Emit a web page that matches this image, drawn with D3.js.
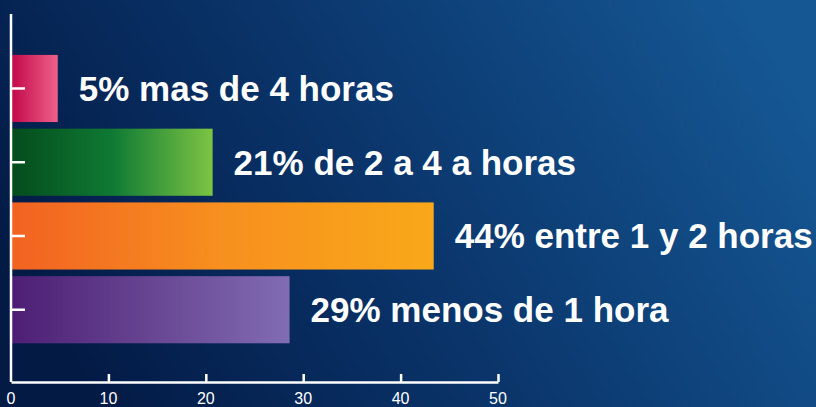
<!DOCTYPE html>
<html>
<head>
<meta charset="utf-8">
<script src="https://cdn.jsdelivr.net/npm/d3@7"></script>
<style>
  html, body { margin: 0; padding: 0; background: #0b2d5e; }
  svg { display: block; font-family: "Liberation Sans", Arial, sans-serif; }
</style>
</head>
<body>
<svg id="svg" width="816" height="407"></svg>
<script>
const categories = ['mas de 4 horas', 'de 2 a 4 a horas', 'entre 1 y 2 horas', 'menos de 1 hora'];
const percents = [5, 21, 44, 29];
const barValues = [4.8, 20.7, 43.4, 28.6];
const xTicks = [0, 10, 20, 30, 40, 50];
const barColors = [
  ['#c20a4a', '#f0608a'],
  ['#044c1c', '#0f7a34', '#7cc444'],
  ['#f26222', '#f7901e', '#f9a81a'],
  ['#4d1f74', '#816cb2']
];

const width = 816, height = 407;
const svg = d3.select('#svg');
const defs = svg.append('defs');

// background
const bg = defs.append('linearGradient').attr('id', 'bg')
  .attr('x1', 0).attr('y1', 0.6).attr('x2', 1).attr('y2', 0.3);
bg.append('stop').attr('offset', 0).attr('stop-color', '#031a45');
bg.append('stop').attr('offset', 0.45).attr('stop-color', '#0a346a');
bg.append('stop').attr('offset', 1).attr('stop-color', '#155793');
svg.append('rect').attr('width', width).attr('height', height).attr('fill', 'url(#bg)');

barColors.forEach((cols, i) => {
  const gr = defs.append('linearGradient').attr('id', 'bar' + i)
    .attr('x1', 0).attr('y1', 0).attr('x2', 1).attr('y2', 0);
  cols.forEach((c, j) => {
    gr.append('stop').attr('offset', j / (cols.length - 1)).attr('stop-color', c);
  });
});

const x = d3.scaleLinear().domain([0, 50]).range([11, 498]);
const y = d3.scaleBand().domain(categories).range([51.6, 346.6])
  .paddingInner(0.09).paddingOuter(0.045);

const g = svg.append('g');

g.selectAll('rect.bar').data(categories).enter().append('rect')
  .attr('class', 'bar')
  .attr('x', x(0) + 1)
  .attr('y', (d) => y(d))
  .attr('width', (d, i) => x(barValues[i]) - x(0) - 1)
  .attr('height', y.bandwidth())
  .attr('fill', (d, i) => 'url(#bar' + i + ')');

g.selectAll('text.label').data(categories).enter().append('text')
  .attr('class', 'label')
  .attr('x', (d, i) => x(barValues[i]) + 21)
  .attr('y', (d) => y(d) + y.bandwidth() / 2 + 12.5)
  .attr('fill', '#ffffff')
  .attr('font-weight', 'bold')
  .attr('font-size', 35)
  .text((d, i) => percents[i] + '% ' + d);

// y axis
const yAxis = g.append('g').attr('transform', 'translate(' + x(0) + ',0)')
  .call(d3.axisRight(y).tickSize(14).tickFormat(''));
yAxis.select('.domain').attr('d', 'M0,14V382');
yAxis.selectAll('line, path').attr('stroke', '#ffffff').attr('stroke-width', 2.5);

// x axis
const xAxis = g.append('g').attr('transform', 'translate(0,382)')
  .call(d3.axisTop(x).tickValues(xTicks).tickSize(8).tickSizeOuter(0).tickFormat(''));
xAxis.selectAll('line, path').attr('stroke', '#ffffff').attr('stroke-width', 2.5);
xAxis.selectAll('.tick').filter((d) => d === 0).select('line').remove();

g.selectAll('text.tick-label').data(xTicks).enter().append('text')
  .attr('class', 'tick-label')
  .attr('x', (d) => x(d))
  .attr('y', 404)
  .attr('text-anchor', 'middle')
  .attr('fill', '#ffffff')
  .style('font-size', '16px')
  .text((d) => d);
</script>
</body>
</html>
